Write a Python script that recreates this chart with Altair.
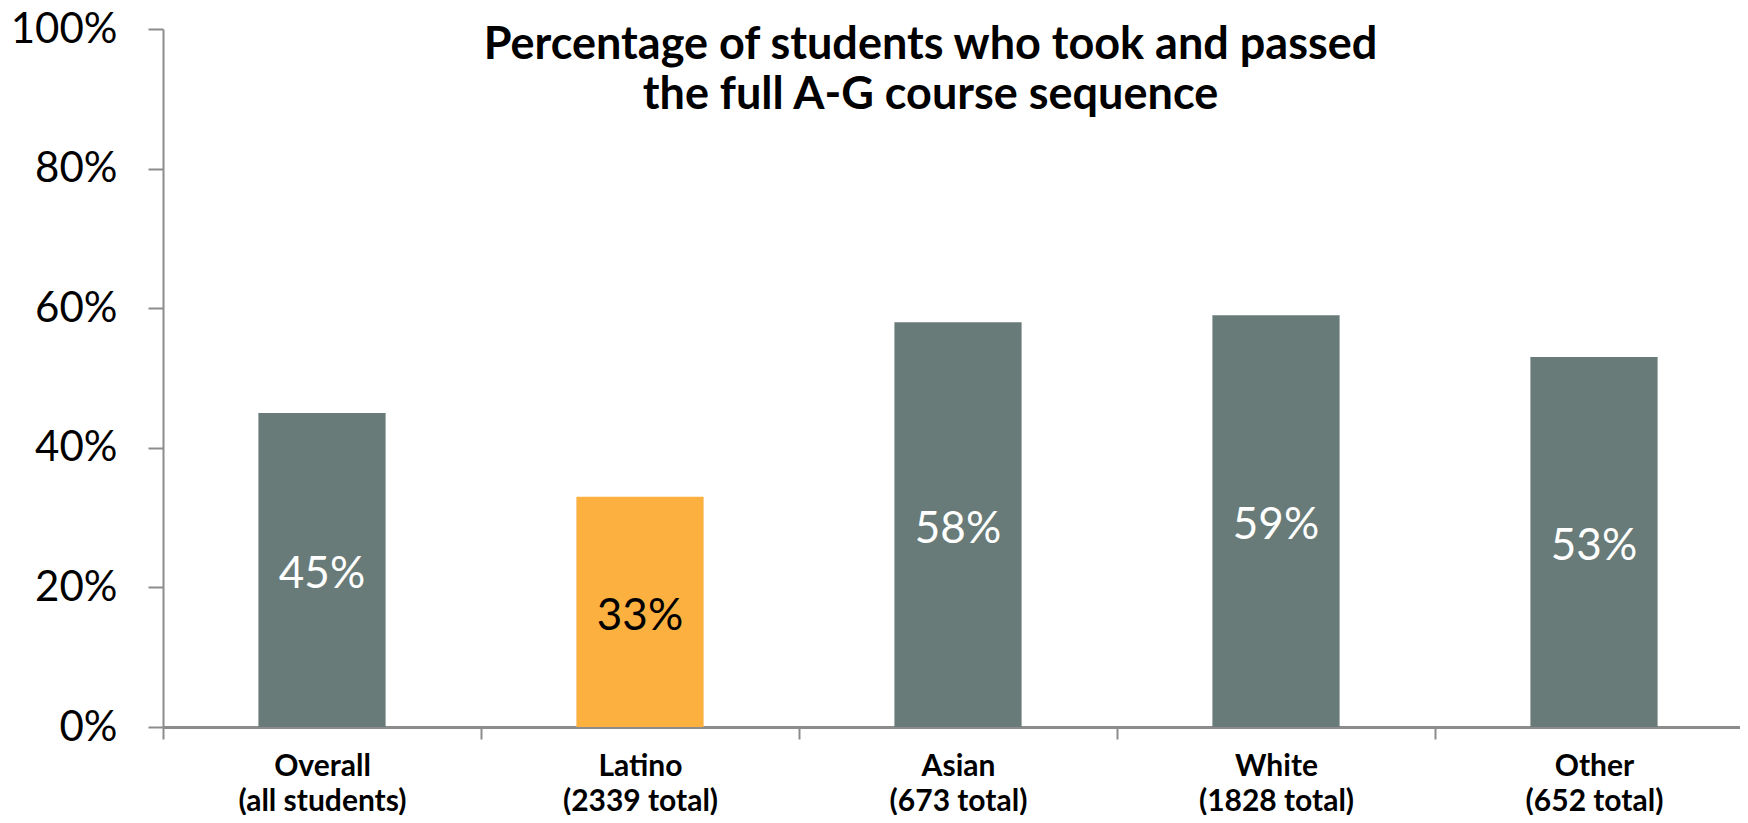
import altair as alt
import pandas as pd

categories = ["Overall\n(all students)", "Latino\n(2339 total)", "Asian\n(673 total)",
              "White\n(1828 total)", "Other\n(652 total)"]
values = [0.45, 0.33, 0.58, 0.59, 0.53]
highlight = "Latino\n(2339 total)"
title_lines = ["Percentage of students who took and passed", "the full A-G course sequence"]

df = pd.DataFrame({"group": categories, "value": values})

FONT = "Lato"
GRAY = "#687B78"
ORANGE = "#FBB040"
AXIS_GRAY = "#8C8C8C"

is_hi = alt.datum.group == highlight

x_scale = alt.Scale(paddingInner=0, paddingOuter=0, range=[0, 1590])

x = alt.X("group:N", sort=categories, title=None, scale=x_scale,
          axis=alt.Axis(labelAngle=0, labelFont=FONT, labelFontSize=30, labelFontWeight="bold",
                        labelColor="black", labelLineHeight=35, labelPadding=12,
                        labelExpr="split(datum.label, '\\n')",
                        tickBand="extent", tickSize=12, tickColor=AXIS_GRAY, tickWidth=2,
                        domainColor=AXIS_GRAY, domainWidth=3, grid=False))

base = alt.Chart(df)

bars = base.mark_bar(width=alt.RelativeBandSize(0.4)).encode(
    x=x,
    y=alt.Y("value:Q", title=None,
            scale=alt.Scale(domain=[0, 1], nice=False),
            axis=alt.Axis(format=".0%", values=[0, 0.2, 0.4, 0.6, 0.8, 1.0],
                          labelFont=FONT, labelFontSize=42, labelColor="black",
                          labelPadding=31, tickSize=15, tickColor=AXIS_GRAY, tickWidth=2,
                          domainColor=AXIS_GRAY, domainWidth=2, grid=False)),
    color=alt.condition(is_hi, alt.value(ORANGE), alt.value(GRAY)),
)

labels = base.transform_calculate(mid="datum.value / 2").mark_text(
    font=FONT, fontSize=44, baseline="middle", align="center", dy=5
).encode(
    x=alt.X("group:N", sort=categories),
    y=alt.Y("mid:Q"),
    text=alt.Text("value:Q", format=".0%"),
    color=alt.condition(is_hi, alt.value("black"), alt.value("white")),
)

chart = alt.layer(bars, labels).properties(
    width=1575, height=698,
    autosize="none",
    padding={"left": 155, "top": 21, "right": 2, "bottom": 88},
    title=alt.TitleParams(title_lines, font=FONT, fontSize=45, fontWeight="bold",
                          color="black", lineHeight=50, anchor="middle", offset=-110, dx=-20),
).configure_view(stroke=None)

chart.save("out.html", embed_options={"renderer": "svg", "actions": False})
